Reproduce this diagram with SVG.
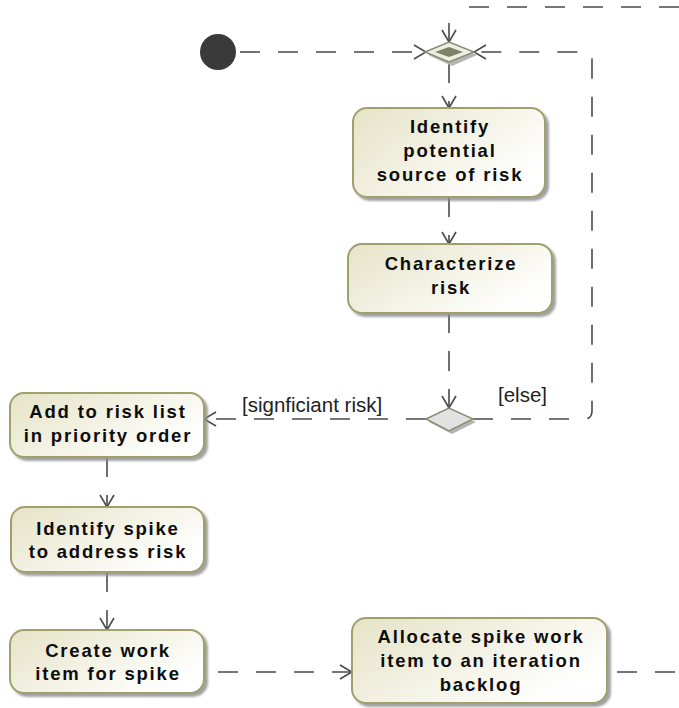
<svg xmlns="http://www.w3.org/2000/svg" width="679" height="708" viewBox="0 0 679 708">
<defs>
<linearGradient id="g" x1="0" y1="0" x2="1" y2="0.6">
<stop offset="0" stop-color="#e5e3c6"/>
<stop offset="1" stop-color="#ffffff"/>
</linearGradient>
<filter id="sh" x="-10%" y="-10%" width="130%" height="140%">
<feDropShadow dx="3" dy="3" stdDeviation="1.2" flood-color="#8a8a8a" flood-opacity="0.8"/>
</filter>
<marker id="ah" viewBox="0 0 14 16" refX="13" refY="8" markerWidth="14" markerHeight="16" markerUnits="userSpaceOnUse" orient="auto">
<path d="M1,1 L13,8 L1,15" fill="none" stroke="#4a4a4a" stroke-width="1.6" stroke-dasharray="none"/>
</marker>
</defs>
<style>
.act{fill:url(#g);stroke:#a0a06c;stroke-width:2;filter:url(#sh)}
.t{font-family:"Liberation Sans",Arial,sans-serif;font-weight:bold;font-size:18.5px;letter-spacing:1.8px;fill:#0d0d0d;text-anchor:middle}
.lbl{font-family:"Liberation Sans",Arial,sans-serif;font-size:20.5px;fill:#222}
.c{fill:none;stroke:#4a4a4a;stroke-width:1.6;stroke-dasharray:20 18}
</style>

<g id="connectors">
<path class="c" d="M240,52 H426" marker-end="url(#ah)"/>
<path class="c" d="M679,7 H459"/>
<path class="c" d="M449,23 V42" style="stroke-dasharray:none" marker-end="url(#ah)"/>
<path class="c" d="M449,63 V108" marker-end="url(#ah)"/>
<path class="c" d="M449,197 V244" marker-end="url(#ah)"/>
<path class="c" d="M449,313 V408" marker-end="url(#ah)"/>
<path class="c" d="M426,419 H204" marker-end="url(#ah)"/>
<path class="c" d="M473,419 H584 Q592,419 592,411 V60 Q592,52 584,52 H474" marker-end="url(#ah)"/>
<path class="c" d="M107,457 V507" marker-end="url(#ah)"/>
<path class="c" d="M107,572 V630" marker-end="url(#ah)"/>
<path class="c" d="M218,672 H352" marker-end="url(#ah)"/>
<path class="c" d="M617,672 H679"/>
<text class="lbl" x="242" y="412">[signficiant risk]</text>
<text class="lbl" x="498" y="402">[else]</text>
</g>

<g id="initial">
<circle cx="218" cy="52" r="18" fill="#3a3a3a"/>
</g>

<g id="merge">
<path d="M428,55 L452,45 L477,55 L452,66 Z" fill="#b5b5b5"/>
<path d="M425,52 L449,42 L474,52 L449,62 Z" fill="#eeeee4" stroke="#8a8c70" stroke-width="1.5"/>
<path d="M435,52 L449,47 L463,52 L449,57 Z" fill="#7c8366"/>
</g>

<g id="decision">
<path d="M429,422 L452,411 L476,422 L452,434 Z" fill="#b5b5b5"/>
<path d="M426,419 L449,408 L473,419 L449,431 Z" fill="#e2e2e2" stroke="#8a8c70" stroke-width="1.5"/>
</g>

<g id="n1">
<rect class="act" x="353" y="108" width="192" height="89" rx="14"/>
<text class="t" x="450" y="133">Identify</text>
<text class="t" x="450" y="157">potential</text>
<text class="t" x="450" y="181">source of risk</text>
</g>

<g id="n2">
<rect class="act" x="348" y="244" width="204" height="69" rx="14"/>
<text class="t" x="451" y="270">Characterize</text>
<text class="t" x="451" y="294">risk</text>
</g>

<g id="n3">
<rect class="act" x="10" y="393" width="194" height="64" rx="14"/>
<text class="t" x="108" y="418">Add to risk list</text>
<text class="t" x="108" y="442">in priority order</text>
</g>

<g id="n4">
<rect class="act" x="11" y="507" width="193" height="65" rx="14"/>
<text class="t" x="108" y="535">Identify spike</text>
<text class="t" x="108" y="558">to address risk</text>
</g>

<g id="n5">
<rect class="act" x="10" y="630" width="194" height="63" rx="14"/>
<text class="t" x="108" y="657">Create work</text>
<text class="t" x="108" y="680">item for spike</text>
</g>

<g id="n6">
<rect class="act" x="352" y="618" width="255" height="85" rx="14"/>
<text class="t" x="481" y="643">Allocate spike work</text>
<text class="t" x="481" y="667">item to an iteration</text>
<text class="t" x="481" y="691">backlog</text>
</g>
</svg>
